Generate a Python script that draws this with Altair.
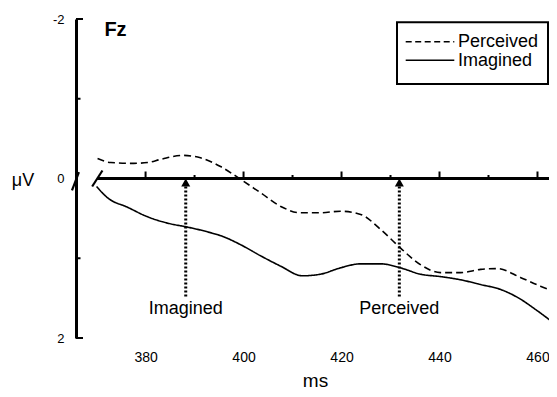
import altair as alt
import pandas as pd

# ---- data ----
ms_perceived = [370.2, 372.9, 377.6, 380.4, 383.1, 387.5, 391.2, 395.3, 399.4, 403.5, 407.6, 411.6, 415.7,
                419.8, 423.9, 428.0, 432.0, 436.1, 440.2, 444.3, 448.4, 451.8, 456.5, 460.6, 464.1]
uv_perceived = [-0.25, -0.20, -0.19, -0.20, -0.24, -0.29, -0.26, -0.15, 0.01, 0.18, 0.35, 0.43, 0.43,
                0.41, 0.45, 0.64, 0.87, 1.08, 1.18, 1.18, 1.14, 1.13, 1.24, 1.35, 1.43]
ms_imagined = [370.0, 372.2, 376.3, 380.4, 384.5, 388.6, 392.7, 395.9, 399.4, 403.5, 407.6, 412.0, 415.7,
               419.8, 423.9, 428.0, 432.0, 436.1, 440.2, 444.3, 448.4, 452.4, 455.9, 460.0, 464.1]
uv_imagined = [0.10, 0.24, 0.36, 0.48, 0.56, 0.61, 0.67, 0.73, 0.83, 0.97, 1.10, 1.22, 1.20,
               1.12, 1.07, 1.07, 1.12, 1.20, 1.23, 1.27, 1.33, 1.39, 1.49, 1.66, 1.85]

series_names = ["Perceived", "Imagined"]
x_tick_labels = [380, 400, 420, 440, 460]
zero_major_ticks = [380, 400, 420, 440, 460]
zero_minor_ticks = [390, 410, 430, 450]
y_tick_labels = [-2, 0, 2]
y_major_ticks = [-2, 2]
y_minor_ticks = [-1, 1]
x_domain = [365.8, 462.35]
y_domain = [-2, 2]
zero_start = [370.1]
arrow_ms = [388.2, 431.8]
arrow_names = ["Imagined", "Perceived"]
arrow_top = 0.1
arrow_bottom = 1.48
arrow_label_uv = 1.64
break_x1 = [364.98, 369.1]
break_y1 = [0.15, 0.10]
break_x2 = [366.4, 371.2]
break_y2 = [-0.08, -0.10]

FONT = "Liberation Sans"

df = pd.concat([
    pd.DataFrame({"ms": ms_perceived, "uv": uv_perceived, "series": "Perceived"}),
    pd.DataFrame({"ms": ms_imagined, "uv": uv_imagined, "series": "Imagined"}),
])

xs = alt.Scale(domain=x_domain, nice=False, zero=False)
ys = alt.Scale(domain=y_domain, reverse=True, nice=False, zero=False)

x_axis = alt.Axis(
    values=x_tick_labels, domain=False, ticks=False, tickSize=0, grid=False,
    labelPadding=23, labelBaseline="alphabetic", labelFontSize=14, labelColor="black",
    labelFont=FONT, title="ms", titleFont=FONT, titleFontSize=19, titleFontWeight="normal",
    titleColor="black", titleBaseline="alphabetic", titleY=48, titleX=239)
y_axis = alt.Axis(
    values=y_tick_labels, domain=True, domainColor="black", domainWidth=3, ticks=False,
    tickSize=0, grid=False, labelPadding=12, labelFontSize=13, labelColor="black",
    labelFont=FONT, labelExpr="'' + datum.value", labelBaseline="middle",
    title="μV", titleFont=FONT, titleAngle=0, titleX=-53.5, titleY=161, titleAlign="center",
    titleBaseline="middle", titleFontSize=18, titleFontWeight="normal", titleColor="black")


def X(f):
    return alt.X(f, scale=xs, axis=x_axis, title="ms")


def Y(f):
    return alt.Y(f, scale=ys, axis=y_axis, title="μV")


curves = alt.Chart(df).mark_line(clip=True, color="black", strokeWidth=1.6, interpolate="monotone").encode(
    x=X("ms:Q"), y=Y("uv:Q"),
    strokeDash=alt.StrokeDash("series:N", scale=alt.Scale(domain=series_names, range=[[7, 4], [1, 0]]),
                              legend=None),
    detail="series:N",
)

zero_line = alt.Chart(pd.DataFrame({"ms": zero_start, "uv": [0]})).mark_rule(
    color="black", strokeWidth=3).encode(x=X("ms:Q"), x2=alt.value(473), y=Y("uv:Q"))

zt_major = alt.Chart(pd.DataFrame({"ms": zero_major_ticks, "uv": 0})).mark_rule(
    color="black", strokeWidth=2, yOffset=-7, y2Offset=0).encode(x=X("ms:Q"), y=Y("uv:Q"), y2="uv:Q")
zt_minor = alt.Chart(pd.DataFrame({"ms": zero_minor_ticks, "uv": 0})).mark_rule(
    color="black", strokeWidth=2, yOffset=-3.5, y2Offset=0).encode(x=X("ms:Q"), y=Y("uv:Q"), y2="uv:Q")

yt_major = alt.Chart(pd.DataFrame({"uv": y_major_ticks})).mark_rule(color="black", strokeWidth=2).encode(
    y=Y("uv:Q"), x=alt.value(0), x2=alt.value(7))
yt_minor = alt.Chart(pd.DataFrame({"uv": y_minor_ticks})).mark_rule(color="black", strokeWidth=2).encode(
    y=Y("uv:Q"), x=alt.value(0), x2=alt.value(4.5))

breaks = alt.Chart(pd.DataFrame({"x1": break_x1, "y1": break_y1, "x2": break_x2, "y2": break_y2})).mark_rule(
    color="black", strokeWidth=2.2, clip=False).encode(x=X("x1:Q"), y=Y("y1:Q"), x2="x2:Q", y2="y2:Q")

arrow_df = pd.DataFrame({"ms": arrow_ms, "name": arrow_names, "top": arrow_top,
                         "bottom": arrow_bottom, "zero": 0, "lab": arrow_label_uv})
arrow_lines = alt.Chart(arrow_df).mark_rule(color="black", strokeWidth=3, strokeDash=[2, 2]).encode(
    x=X("ms:Q"), y=Y("top:Q"), y2="bottom:Q")
arrow_heads = alt.Chart(arrow_df).mark_point(shape="triangle-up", filled=True, size=81, color="black",
                                             opacity=1, yOffset=4).encode(x=X("ms:Q"), y=Y("zero:Q"))
arrow_text = alt.Chart(arrow_df).mark_text(fontSize=18, font=FONT, color="black", baseline="middle",
                                           align="center").encode(x=X("ms:Q"), y=Y("lab:Q"), text="name:N")

fz = alt.Chart(pd.DataFrame({"t": ["Fz"]})).mark_text(
    fontSize=20, fontWeight="bold", font=FONT, color="black", align="center", baseline="middle").encode(
    x=alt.value(39.5), y=alt.value(11), text="t:N")

legend_box = alt.Chart(pd.DataFrame({"a": [0]})).mark_rect(fill="white", stroke="black", strokeWidth=2).encode(
    x=alt.value(321), x2=alt.value(472), y=alt.value(3.3), y2=alt.value(65))
leg_perc = alt.Chart(pd.DataFrame({"a": [0]})).mark_rule(color="black", strokeWidth=1.6,
                                                         strokeDash=[6, 3.5]).encode(
    x=alt.value(329.7), x2=alt.value(378.3), y=alt.value(22.7))
leg_imag = alt.Chart(pd.DataFrame({"a": [0]})).mark_rule(color="black", strokeWidth=1.6).encode(
    x=alt.value(329.7), x2=alt.value(378.3), y=alt.value(41.2))
leg_text = alt.Chart(pd.DataFrame({"t": series_names, "yy": [22.5, 41.7]})).mark_text(
    fontSize=18, font=FONT, color="black", align="left", baseline="middle").encode(
    x=alt.value(382), y=alt.Y("yy:Q", scale=None, axis=None), text="t:N")

chart = alt.layer(
    curves, zero_line, zt_major, zt_minor, yt_major, yt_minor, breaks,
    arrow_lines, arrow_heads, arrow_text, fz, legend_box, leg_perc, leg_imag, leg_text
).properties(
    width=473, height=319,
    padding={"left": 68, "top": 11, "right": 0, "bottom": 54},
    autosize=alt.AutoSizeParams(type="none"),
).configure(font=FONT, background="white").configure_view(strokeWidth=0)

chart.save("out.html", embed_options={"renderer": "svg", "actions": False})
